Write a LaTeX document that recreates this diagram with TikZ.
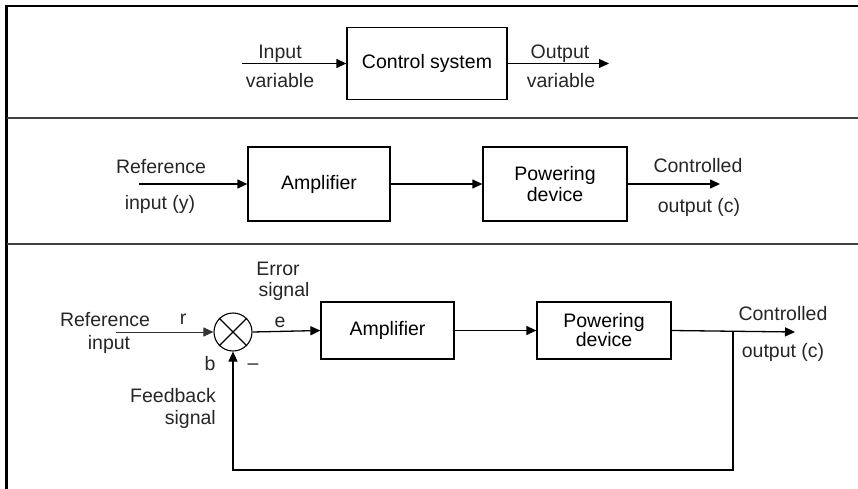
\documentclass[tikz,border=0pt]{standalone}
\usepackage{fontspec}
\setmainfont{Liberation Sans}
\usetikzlibrary{arrows.meta}
\begin{document}
\begin{tikzpicture}[x=1pt,y=-1pt,
  blk/.style={draw=black, line width=1.3pt, inner sep=0pt, font=\fontsize{19.5}{22}\selectfont, align=center},
  lbl/.style={inner sep=0pt, anchor=base, font=\fontsize{19.5}{22}\selectfont, text=black!85},
  conn/.style={line width=1.3pt, -{Triangle[length=10pt,width=9pt]}},
  sep/.style={line width=2pt, draw=black!75},
  border/.style={line width=2.6pt, draw=black}]
\useasboundingbox (0,0) rectangle (858,489);
% frame
\draw[border] (6.5,489) -- (6.5,6) -- (858,6);
\draw[sep] (6.5,118) -- (858,118);
\draw[sep] (6.5,244) -- (858,244);

% ---------- panel 1
\node[blk, minimum width=160pt, minimum height=72pt] (cs) at (427,63.5) {Control system};
\coordinate (in1) at (242,63.5);
\coordinate (out1) at (609,63.5);
\draw[conn] (in1) -- (cs.west);
\draw[conn] (cs.east) -- (out1);
\node[lbl] (t1a) at (280,58.5) {Input};
\node[lbl] (t1b) at (280,88) {variable};
\node[lbl] (t1c) at (560,58.5) {Output};
\node[lbl] (t1d) at (561,88) {variable};

% ---------- panel 2
\node[blk, minimum width=142pt, minimum height=74pt] (amp1) at (319,184) {Amplifier};
\node[blk, minimum width=144pt, minimum height=74pt] (pow1) at (555,184) {Powering\\[-1pt]device};
\coordinate (in2) at (139,184);
\coordinate (out2) at (720,184);
\draw[conn] (in2) -- (amp1.west);
\draw[conn] (amp1.east) -- (pow1.west);
\draw[conn] (pow1.east) -- (out2);
\node[lbl] (t2a) at (161,174) {Reference};
\node[lbl] (t2b) at (160,209) {input (y)};
\node[lbl] (t2c) at (698,172) {Controlled};
\node[lbl] (t2d) at (699,212) {output (c)};

% ---------- panel 3
\node[draw=black, line width=1.1pt, circle, minimum size=38pt, inner sep=0pt] (sum) at (233,332) {};
\draw[line width=1.1pt] (sum.north west) -- (sum.south east);
\draw[line width=1.1pt] (sum.north east) -- (sum.south west);
\node[blk, minimum width=133pt, minimum height=57pt] (amp2) at (387.5,330.5) {Amplifier};
\node[blk, minimum width=134pt, minimum height=57pt] (pow2) at (604,330.5) {Powering\\[-3pt]device};
\coordinate (in3) at (116,332);
\coordinate (j) at (733,332);
\coordinate (out3) at (795,332);
\coordinate (fb1) at (733,470);
\coordinate (fb2) at (233,470);
\draw[conn, line width=1pt, draw=black!80] (in3) -- (sum.west);
\draw[conn] (sum.east) -- (amp2.west);
\draw[conn] (amp2.east) -- (pow2.west);
\draw[conn] (pow2.east) -- (out3);
\draw[conn] (j) -- (fb1) -- (fb2) -- (sum.south);

\node[lbl] (t3a) at (105,326) {Reference};
\node[lbl] (t3b) at (109,349) {input};
\node[lbl] (t3r) at (183,324) {r};
\node[lbl] (t3c) at (278,275) {Error};
\node[lbl] (t3d) at (284,296) {signal};
\node[lbl] (t3e) at (280,327) {e};
\node[lbl] (t3f) at (210,370) {b};
\node[lbl] (t3g) at (253,369) {--};
\node[lbl, anchor=base east] (t3h) at (216,402) {Feedback};
\node[lbl, anchor=base east] (t3i) at (216,424) {signal};
\node[lbl] (t3j) at (783,320) {Controlled};
\node[lbl] (t3k) at (783,357) {output (c)};
\end{tikzpicture}
\end{document}
